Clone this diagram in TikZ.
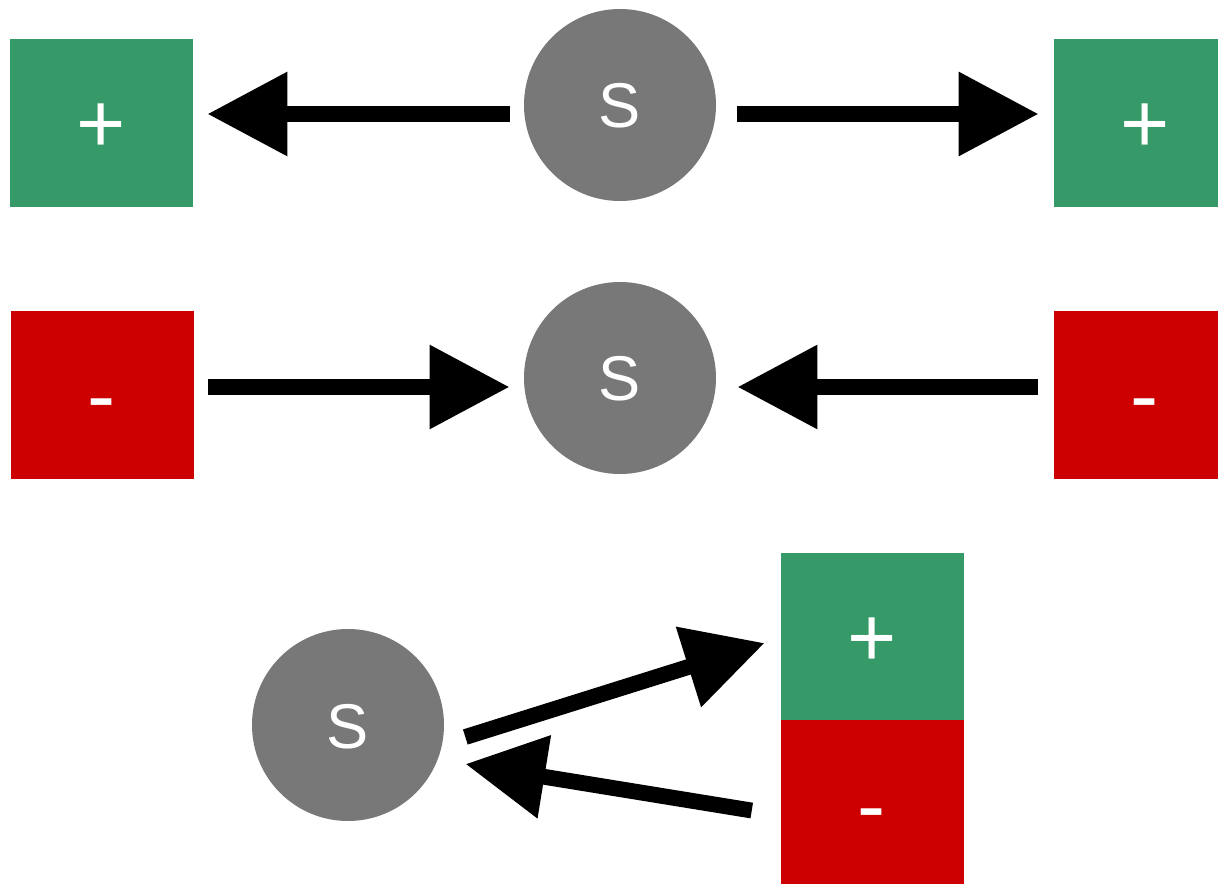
\documentclass[tikz,border=0pt]{standalone}
\usepackage{fontspec}
\setsansfont{Liberation Sans}
\usetikzlibrary{arrows.meta,positioning}
\definecolor{chgreen}{HTML}{359A68}
\definecolor{chred}{HTML}{CC0000}
\definecolor{srcgray}{HTML}{787878}

\begin{document}
\begin{tikzpicture}[font=\sffamily,
plusbox/.style={fill=chgreen,draw=chgreen,line width=0.3pt,minimum width=36.4mm,minimum height=33.4mm,inner sep=0pt,text=white,font=\sffamily\fontsize{48}{58}\selectfont,text height=12mm,text depth=0pt},
minusbox/.style={plusbox,fill=chred,draw=chred},
src/.style={circle,fill=srcgray,minimum size=38.4mm,inner sep=0pt,text=white,font=\sffamily\fontsize{36}{44}\selectfont,text height=9.2mm,text depth=0pt},
arr/.style={-{Triangle[length=16mm,width=16mm]},line width=9pt,shorten <=3mm,shorten >=3mm}]
\clip (0,0) rectangle (24.36,17.66);
% repelled by like charges
\node[plusbox] (pl1) at (2.02,15.21) {+};
\node[src] (s1) at (12.4,15.56) {S};
\node[plusbox] (pr1) at (22.9,15.21) {+};
% attracted by opposite charges
\node[minusbox] (ml2) at (2.04,9.77) {-};
\node[src] (s2) at (12.4,10.1) {S};
\node[minusbox] (mr2) at (22.9,9.77) {-};
% dipole
\node[src] (s3) at (6.96,3.16) {S};
\node[plusbox] (p3) at (17.44,4.93) {+};
\node[minusbox,below=0pt of p3] (m3) {-};
\draw[arr,shorten <=2.8mm] ([yshift=-1.8mm]s1.west) -- ([yshift=-1.8mm]s1.west -| pl1.east);
\draw[arr,shorten <=4.2mm] ([yshift=-1.8mm]s1.east) -- ([yshift=-1.8mm]s1.east -| pr1.west);
\draw[arr,shorten >=2.8mm] ([yshift=-1.8mm]s2.west -| ml2.east) -- ([yshift=-1.8mm]s2.west);
\draw[arr,shorten <=3.2mm,shorten >=4.2mm] ([yshift=-1.8mm]s2.east -| mr2.west) -- ([yshift=-1.8mm]s2.east);
\draw[arr,shorten <=0pt,shorten >=0pt] ([shift={(4.2mm,-2.4mm)}]s3.east) -- ([shift={(-3.2mm,-1.3mm)}]p3.west);
\draw[arr,shorten <=0pt,shorten >=0pt] ([shift={(-5.8mm,-1.3mm)}]m3.west) -- ([shift={(4.2mm,-7.8mm)}]s3.east);
\end{tikzpicture}
\end{document}
